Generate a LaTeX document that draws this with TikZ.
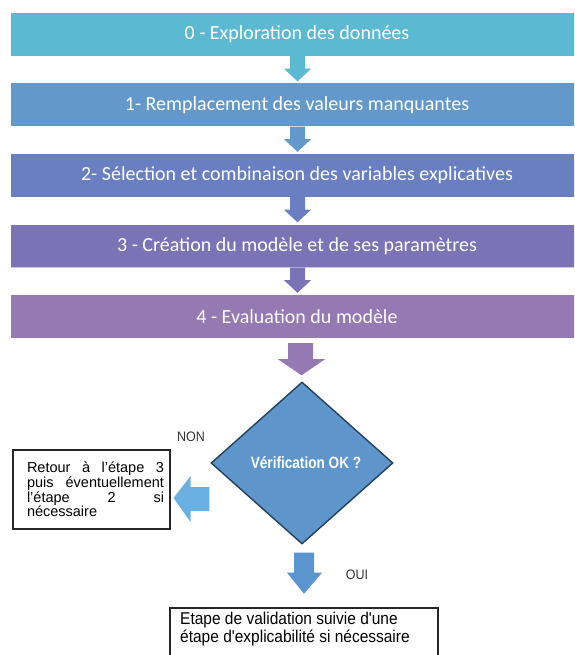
\documentclass[tikz,border=0pt]{standalone}
\usepackage{fontspec}
\setmainfont{Liberation Sans}[Ligatures=TeXOff]
\newfontfamily\barfont{Carlito}
\usepackage{graphicx}
\usepackage{tikz}
\usetikzlibrary{shapes.geometric,calc}

\definecolor{bar0}{HTML}{5BB9D1}
\definecolor{bar1}{HTML}{6299CA}
\definecolor{bar2}{HTML}{6A7EC2}
\definecolor{bar3}{HTML}{7B73B6}
\definecolor{bar4}{HTML}{9479B3}
\definecolor{dia}{HTML}{5E95CA}
\definecolor{dialine}{HTML}{24405A}
\definecolor{leftarr}{HTML}{6AB0E2}
\definecolor{ouiarr}{HTML}{5B95D0}
\newcommand{\tall}[2][1.1]{\scalebox{1}[#1]{#2}}

\begin{document}
\begin{tikzpicture}[x=1pt,y=-1pt,
  bar/.style={minimum width=572pt,minimum height=43pt,inner sep=0pt,text=white,font=\barfont\fontsize{20}{24}\selectfont},
  note/.style={draw=black!85,line width=1.1pt},
  small/.style={font=\fontsize{12.5}{15}\selectfont,text=black!80}]
\clip (0,0) rectangle (574,655);
\fill[white] (0,0) rectangle (574,655);
% les etapes
\foreach \i/\txt in {0/{0 - Exploration des données},1/{1- Remplacement des valeurs manquantes},2/{2- Sélection et combinaison des variables explicatives},3/{3 - Création du modèle et de ses paramètres},4/{4 - Evaluation du modèle}}{
  \node[bar,fill=bar\i] (b\i) at (297,34.5+70.5*\i) {\txt};
  \draw[white,opacity=.6,line width=1pt] (b\i.south west) -- (b\i.south east);
}
\foreach \i/\j in {0/1,1/2,2/3,3/4}
  \fill[bar\i] ($(b\i.south)+(-7,0)$) -- ++(0,12.5) -- ++(-6,0) -- ($(b\j.north)+(0.5,-2)$)
    -- ($(b\i.south)+(14,12.5)$) -- ++(-6,0) -- ($(b\i.south)+(8,0)$) -- cycle;
% verification
\node[diamond,draw=dialine,fill=dia,line width=1.4pt,minimum width=182pt,minimum height=162pt,inner sep=0pt,text=white,font=\bfseries\fontsize{13.6}{16}\selectfont] (chk) at (302,463) {\hspace*{8pt}\tall[1.2]{Vérification OK ?}};
\fill[bar4] ($(b4.south)+(-9,5)$) -- ($(b4.south)+(-9,21)$) -- ($(b4.south)+(-19,21)$) -- ($(chk.north)+(-0.5,-6)$)
  -- ($(b4.south)+(28,21)$) -- ($(b4.south)+(16,21)$) -- ($(b4.south)+(16,5)$) -- cycle;
% NON
\node[note,minimum width=157pt,minimum height=79pt,inner xsep=0pt] (ret) at (91.5,489.5)
  {\hspace*{14pt}\parbox{137pt}{\fontsize{14.5}{14.7}\selectfont\lineskiplimit=-20pt Retour\hfill à\hfill l’étape\hfill 3\\puis\hfill éventuellement\\l’étape\hfill 2\hfill si\\nécessaire}\hspace*{6pt}};
\fill[leftarr] ($(ret.east)+(3,8.5)$) -- ($(ret.east)+(20,-13.5)$) -- ($(ret.east)+(20,-2.5)$) -- ($(chk.west)+(-1,24)$)
  -- ($(chk.west)+(-1,48)$) -- ($(ret.east)+(20,21.5)$) -- ($(ret.east)+(20,32.5)$) -- cycle;
\node[small] (non) at (191,437) {\tall{NON}};
% OUI
\node[anchor=north west,inner sep=0pt,font=\fontsize{15.5}{15.2}\selectfont] (val) at (180,612)
  {\tall{\begin{tabular}{@{}l@{}}Etape de validation suivie d'une\\étape d'explicabilité si nécessaire\end{tabular}}};
\draw[note] ($(val.north west)+(-10,-4)$) rectangle ++(268,100);
\fill[ouiarr] ($(chk.south)+(-8,8)$) -- ++(0,20) -- ++(-7,0) -- ($(chk.south)+(2,49)$)
  -- ($(chk.south)+(20,28)$) -- ++(-8,0) -- ($(chk.south)+(12,8)$) -- cycle;
\node[small] (oui) at (357,575) {\tall{OUI}};
\end{tikzpicture}
\end{document}
